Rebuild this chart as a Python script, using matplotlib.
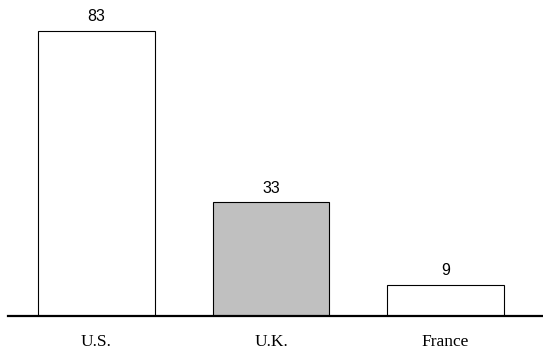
import matplotlib
matplotlib.use("Agg")
import matplotlib.pyplot as plt

categories = ["U.S.", "U.K.", "France"]
values = [83, 33, 9]
fills = ["white", "#c0c0c0", "white"]

fig = plt.figure(figsize=(5.43, 3.55), dpi=100)
ax = fig.add_axes([8 / 543, 1 - 315.7 / 355, 535 / 543, 315.7 / 355])

x = list(range(len(categories)))
bars = ax.bar(x, values, width=0.67, color=fills, edgecolor="black", linewidth=0.8)

for rect, v in zip(bars, values):
    ax.text(rect.get_x() + rect.get_width() / 2, v + 1.9, str(v),
            ha="center", va="bottom", fontsize=11.5, family="Liberation Sans")

ax.set_xlim(-0.507, 2.559)
ax.set_ylim(0, 91.9)
ax.set_yticks([])
ax.set_xticks(x)
ax.set_xticklabels(categories, family="Liberation Serif", fontsize=12.5)
ax.tick_params(axis="x", length=0, pad=13)
for side in ("top", "right", "left"):
    ax.spines[side].set_visible(False)
ax.spines["bottom"].set_linewidth(1.6)

fig.savefig("out.png", dpi=100)
